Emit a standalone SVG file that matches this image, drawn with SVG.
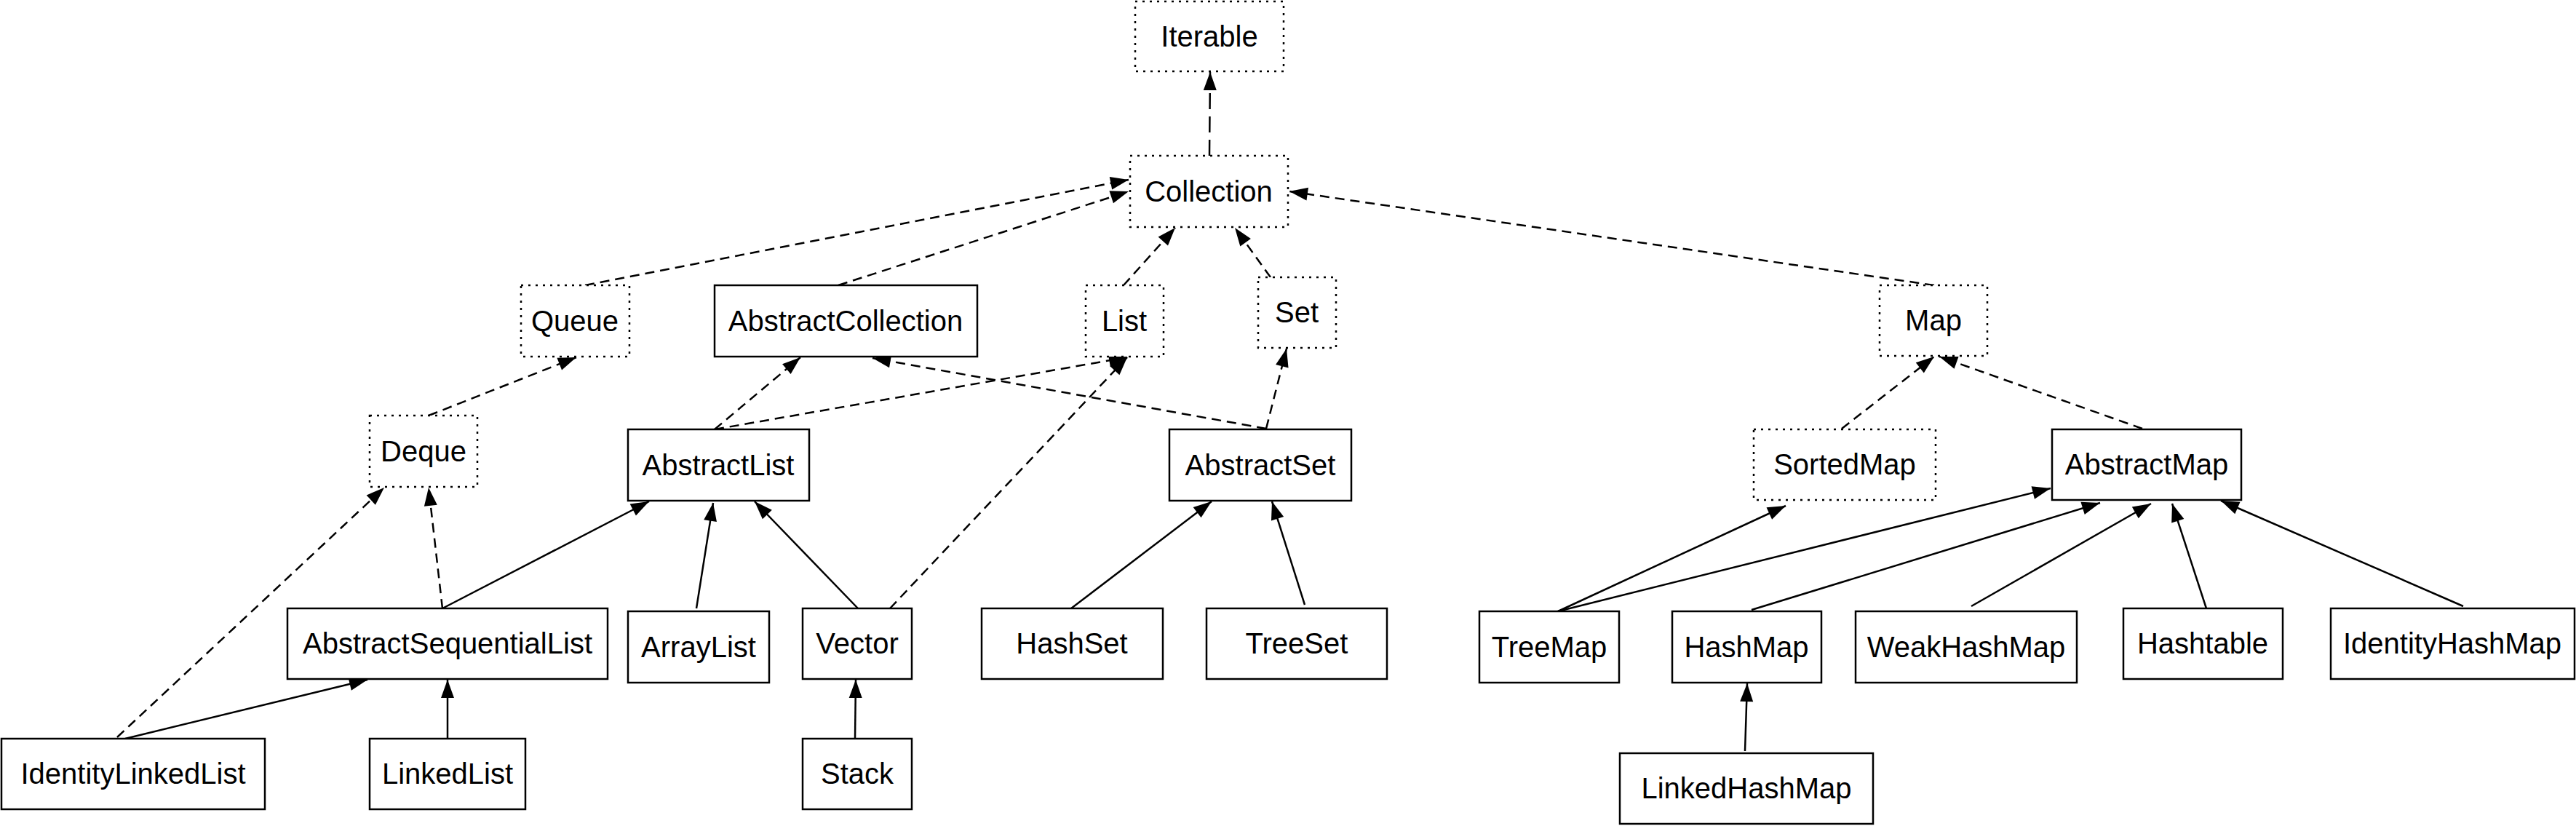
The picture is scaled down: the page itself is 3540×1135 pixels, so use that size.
<svg xmlns="http://www.w3.org/2000/svg" width="3540" height="1135" viewBox="0 0 3540 1135">
<style>
.b{fill:#fff;stroke:#000;stroke-width:2.5}
.d{fill:#fff;stroke:#000;stroke-width:2.5;stroke-dasharray:3 7}
text{font-family:"Liberation Sans",Arial,Helvetica,sans-serif;font-size:40px;text-anchor:middle;fill:#000}
.s{fill:none;stroke:#000;stroke-width:2.5;marker-end:url(#ah)}
.i{fill:none;stroke:#000;stroke-width:2.5;stroke-dasharray:13 8;marker-end:url(#ah)}
.il{fill:none;stroke:#000;stroke-width:2.5;stroke-dasharray:22 10;marker-end:url(#ah)}
</style>
<defs>
<marker id="ah" markerUnits="userSpaceOnUse" markerWidth="26" markerHeight="18" refX="25" refY="9" orient="auto" overflow="visible">
<path d="M0,0 L25,9 L0,18 z" fill="#000"/>
</marker>
</defs>
<rect width="3540" height="1135" fill="#fff"/>
<g id="connectors">
<line class="il" x1="1662" y1="214" x2="1663" y2="99"/>
<line class="i" x1="804" y1="392" x2="1551" y2="247"/>
<line class="i" x1="1152" y1="392" x2="1551" y2="263"/>
<line class="i" x1="1544" y1="392" x2="1615" y2="313"/>
<line class="i" x1="1746" y1="381" x2="1697" y2="313"/>
<line class="i" x1="2658" y1="392" x2="1772" y2="263"/>
<line class="i" x1="589" y1="571" x2="792" y2="491"/>
<line class="i" x1="982" y1="590" x2="1100" y2="491"/>
<line class="i" x1="982" y1="590" x2="1549" y2="491"/>
<line class="i" x1="1740" y1="589" x2="1199" y2="492"/>
<line class="i" x1="1740" y1="589" x2="1768" y2="479"/>
<line class="i" x1="608" y1="836" x2="589" y2="670"/>
<line class="i" x1="1223" y1="836" x2="1549" y2="491"/>
<line class="i" x1="161" y1="1013" x2="528" y2="670"/>
<line class="i" x1="2531" y1="589" x2="2658" y2="490"/>
<line class="i" x1="2944" y1="589" x2="2665" y2="490"/>
<line class="s" x1="608" y1="836" x2="892" y2="689"/>
<line class="s" x1="957" y1="836" x2="980" y2="691"/>
<line class="s" x1="1179" y1="836" x2="1037" y2="689"/>
<line class="s" x1="172" y1="1015" x2="505" y2="934"/>
<line class="s" x1="615" y1="1015" x2="615" y2="934"/>
<line class="s" x1="1175" y1="1015" x2="1176" y2="934"/>
<line class="s" x1="1472" y1="836" x2="1665" y2="689"/>
<line class="s" x1="1793" y1="831" x2="1748" y2="689"/>
<line class="s" x1="2141" y1="840" x2="2454" y2="695"/>
<line class="s" x1="2141" y1="840" x2="2818" y2="671"/>
<line class="s" x1="2407" y1="838" x2="2886" y2="691"/>
<line class="s" x1="2709" y1="833" x2="2956" y2="692"/>
<line class="s" x1="3032" y1="836" x2="2985" y2="692"/>
<line class="s" x1="3385" y1="833" x2="3052" y2="688"/>
<line class="s" x1="2398" y1="1032" x2="2401" y2="939"/>
</g>
<g id="Iterable"><rect class="d" x="1560" y="2" width="204" height="96"/><text x="1662" y="64">Iterable</text></g>
<g id="Collection"><rect class="d" x="1553" y="214" width="217" height="98"/><text x="1661" y="277">Collection</text></g>
<g id="Queue"><rect class="d" x="716" y="392" width="149" height="98"/><text x="790" y="455">Queue</text></g>
<g id="AbstractCollection"><rect class="b" x="982" y="392" width="361" height="98"/><text x="1162" y="455">AbstractCollection</text></g>
<g id="List"><rect class="d" x="1492" y="392" width="107" height="98"/><text x="1545" y="455">List</text></g>
<g id="Set"><rect class="d" x="1729" y="381" width="107" height="97"/><text x="1782" y="443">Set</text></g>
<g id="Map"><rect class="d" x="2583" y="392" width="148" height="97"/><text x="2657" y="454">Map</text></g>
<g id="Deque"><rect class="d" x="508" y="571" width="148" height="98"/><text x="582" y="634">Deque</text></g>
<g id="AbstractList"><rect class="b" x="863" y="590" width="249" height="98"/><text x="987" y="653">AbstractList</text></g>
<g id="AbstractSet"><rect class="b" x="1607" y="590" width="250" height="98"/><text x="1732" y="653">AbstractSet</text></g>
<g id="SortedMap"><rect class="d" x="2410" y="590" width="250" height="97"/><text x="2535" y="652">SortedMap</text></g>
<g id="AbstractMap"><rect class="b" x="2820" y="590" width="260" height="97"/><text x="2950" y="652">AbstractMap</text></g>
<g id="AbstractSequentialList"><rect class="b" x="395" y="836" width="440" height="97"/><text x="615" y="898">AbstractSequentialList</text></g>
<g id="ArrayList"><rect class="b" x="863" y="840" width="194" height="98"/><text x="960" y="903">ArrayList</text></g>
<g id="Vector"><rect class="b" x="1103" y="836" width="150" height="97"/><text x="1178" y="898">Vector</text></g>
<g id="HashSet"><rect class="b" x="1349" y="836" width="249" height="97"/><text x="1473" y="898">HashSet</text></g>
<g id="TreeSet"><rect class="b" x="1658" y="836" width="248" height="97"/><text x="1782" y="898">TreeSet</text></g>
<g id="TreeMap"><rect class="b" x="2033" y="840" width="192" height="98"/><text x="2129" y="903">TreeMap</text></g>
<g id="HashMap"><rect class="b" x="2298" y="840" width="205" height="98"/><text x="2400" y="903">HashMap</text></g>
<g id="WeakHashMap"><rect class="b" x="2550" y="840" width="304" height="98"/><text x="2702" y="903">WeakHashMap</text></g>
<g id="Hashtable"><rect class="b" x="2918" y="836" width="219" height="97"/><text x="3027" y="898">Hashtable</text></g>
<g id="IdentityHashMap"><rect class="b" x="3203" y="836" width="335" height="97"/><text x="3370" y="898">IdentityHashMap</text></g>
<g id="IdentityLinkedList"><rect class="b" x="2" y="1015" width="362" height="97"/><text x="183" y="1077">IdentityLinkedList</text></g>
<g id="LinkedList"><rect class="b" x="508" y="1015" width="214" height="97"/><text x="615" y="1077">LinkedList</text></g>
<g id="Stack"><rect class="b" x="1103" y="1015" width="150" height="97"/><text x="1178" y="1077">Stack</text></g>
<g id="LinkedHashMap"><rect class="b" x="2226" y="1035" width="348" height="97"/><text x="2400" y="1097">LinkedHashMap</text></g>
</svg>
